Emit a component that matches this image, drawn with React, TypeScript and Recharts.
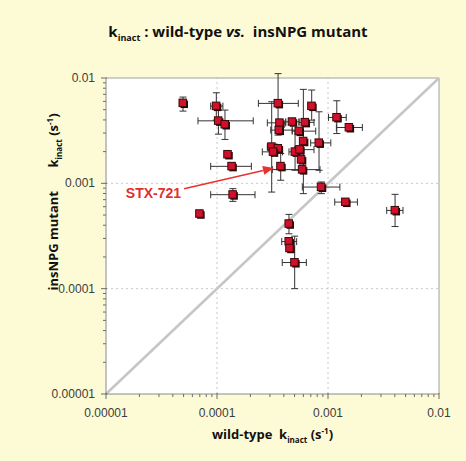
import React from 'react';
import { ScatterChart, Scatter, XAxis, YAxis, ErrorBar, ReferenceLine, CartesianGrid } from 'recharts';

// wild-type kinact (s^-1)
const wildType = [
  4.94e-5, 9.86e-5, 1.03e-4, 1.18e-4, 1.25e-4, 1.36e-4, 1.39e-4, 6.98e-5,
  3.55e-4, 7.13e-4, 1.2e-3, 1.55e-3, 3.67e-4, 4.76e-4, 6.21e-4, 3.62e-4,
  5.48e-4, 6.0e-4, 8.3e-4, 3.11e-4, 3.55e-4, 3.21e-4, 5.05e-4, 5.56e-4,
  5.75e-4, 3.75e-4, 5.87e-4, 8.7e-4, 1.44e-3, 4.02e-3, 4.45e-4, 4.45e-4,
  4.52e-4, 5.01e-4,
];
// insNPG mutant kinact (s^-1)
const mutant = [
  5.78e-3, 5.41e-3, 3.92e-3, 3.62e-3, 1.88e-3, 1.45e-3, 7.8e-4, 5.14e-4,
  5.74e-3, 5.41e-3, 4.22e-3, 3.39e-3, 3.75e-3, 3.84e-3, 3.79e-3, 3.2e-3,
  3.13e-3, 2.51e-3, 2.42e-3, 2.22e-3, 2.14e-3, 1.99e-3, 1.99e-3, 2.09e-3,
  1.68e-3, 1.45e-3, 1.35e-3, 9.22e-4, 6.64e-4, 5.53e-4, 4.13e-4, 2.8e-4,
  2.42e-4, 1.77e-4,
];
// error bar ends (null = no visible bar)
const wtLow = [
  null, 8.77e-5, 6.74e-5, null, null, 8.77e-5, 8.77e-5, null,
  2.36e-4, 6.65e-4, 1.01e-3, 1.19e-3, 2.84e-4, 4.16e-4, 5.48e-4, 3.05e-4,
  4.76e-4, null, 6.98e-4, 2.84e-4, null, 2.56e-4, 4.45e-4, 5.0e-4,
  null, null, 3.15e-4, 5.87e-4, 1.15e-3, 3.38e-3, null, 3.83e-4,
  null, 3.87e-4,
];
const wtHigh = [
  null, 1.13e-4, 2.12e-4, null, null, 2.04e-4, 2.2e-4, null,
  5.4e-4, 7.63e-4, 1.46e-3, 2.04e-3, 4.16e-4, 5.48e-4, 7.48e-4, 4.76e-4,
  7.75e-4, null, 1.06e-3, 3.46e-4, null, 3.9e-4, 5.7e-4, 7.48e-4,
  null, null, 8.47e-4, 1.28e-3, 1.84e-3, 4.74e-3, null, 5.22e-4,
  null, 6.38e-4,
];
const mutLow = [
  4.85e-3, 3.98e-3, 2.93e-3, 2.61e-3, null, 1.35e-3, 6.74e-4, null,
  2.87e-3, 3.98e-3, 2.97e-3, null, null, null, null, null,
  null, 7.98e-4, 1.33e-3, 8.26e-4, null, null, 1.33e-3, null,
  null, 1.07e-3, null, 7.98e-4, 6.2e-4, 3.89e-4, 3.32e-4, null,
  null, 1.0e-4,
];
const mutHigh = [
  6.59e-3, 7.24e-3, 4.96e-3, 4.96e-3, null, 1.56e-3, 8.9e-4, null,
  1.1e-2, 7.69e-3, 6.08e-3, null, null, null, null, null,
  null, 7.8e-3, 4.78e-3, 5.95e-3, null, null, 3.2e-3, null,
  null, 1.92e-3, null, 1.03e-3, 7.1e-4, 7.86e-4, 5.07e-4, null,
  null, 3.15e-4,
];

const majorTicks = [1e-5, 1e-4, 1e-3, 1e-2];
const majorLabels = ['0.00001', '0.0001', '0.001', '0.01'];
const minorFactors = [2, 3, 4, 5, 6, 7, 8, 9];

const annotationLabel = 'STX-721';
const arrowFrom = [5.05e-5, 8.9e-4];
const arrowTo = [3.26e-4, 1.4e-3];

const allTicks = [
  ...majorTicks,
  ...majorTicks.slice(0, 3).flatMap((d) => minorFactors.map((f) => f * d)),
].sort((a, b) => a - b);

const data = wildType.map((x, i) => {
  const y = mutant[i];
  const xl = wtLow[i];
  const xh = wtHigh[i];
  const yl = mutLow[i];
  const yh = mutHigh[i];
  return {
    x,
    y,
    xErr: [xl == null ? 0 : x - xl, xh == null ? 0 : xh - x],
    yErr: [yl == null ? 0 : y - yl, yh == null ? 0 : yh - y],
  };
});

const majorIndex = (v: number) => majorTicks.findIndex((m) => Math.abs(m - v) / m < 1e-6);

const tickFont = { fontFamily: 'Liberation Sans, Arial, sans-serif', fontSize: 12, fill: '#3c3c3c' };

const YTick = (props: any) => {
  const { x, y, payload } = props;
  const idx = majorIndex(payload.value);
  const major = idx >= 0;
  return (
    <g>
      <line x1={x + (major ? 1 : 0)} x2={x - (major ? 5 : 3)} y1={y} y2={y} stroke="#6a6a6a" strokeWidth={1} />
      {major && (
        <text x={x - 11} y={y} dy={4} textAnchor="end" {...tickFont}>
          {majorLabels[idx]}
        </text>
      )}
    </g>
  );
};

const XTick = (props: any) => {
  const { x, y, payload } = props;
  const idx = majorIndex(payload.value);
  const major = idx >= 0;
  return (
    <g>
      <line x1={x} x2={x} y1={y - (major ? 1 : 0)} y2={y + (major ? 5 : 3)} stroke="#6a6a6a" strokeWidth={1} />
      {major && (
        <text x={x} y={y + 23} textAnchor="middle" {...tickFont}>
          {majorLabels[idx]}
        </text>
      )}
    </g>
  );
};

const Marker = (p: any) => {
  const { cx, cy } = p;
  if (cx == null || cy == null) return null;
  return (
    <g>
      <rect x={cx - 2.5} y={cy - 2.5} width={7.5} height={7.5} fill="#2a0808" />
      <rect x={cx - 4} y={cy - 4} width={7.5} height={7.5} fill="#d2102c" stroke="#3a0a0a" strokeWidth={1} />
    </g>
  );
};

const ArrowShape = (p: any) => {
  const { x1, y1, x2, y2 } = p;
  if ([x1, y1, x2, y2].some((v) => v == null || isNaN(v))) return null;
  const ang = Math.atan2(y2 - y1, x2 - x1);
  const len = 11;
  const hw = 4.5;
  const bx = x2 - len * Math.cos(ang);
  const by = y2 - len * Math.sin(ang);
  const px = -Math.sin(ang) * hw;
  const py = Math.cos(ang) * hw;
  return (
    <g>
      <line x1={x1} y1={y1} x2={bx} y2={by} stroke="#e8322f" strokeWidth={1.5} />
      <polygon points={`${x2},${y2} ${bx + px},${by + py} ${bx - px},${by - py}`} fill="#e8322f" />
      <text
        x={x1 - 3}
        y={y1 + 9}
        textAnchor="end"
        fontFamily="Liberation Sans, Arial, sans-serif"
        fontWeight="bold"
        fontSize={14}
        fill="#e0302c"
      >
        {annotationLabel}
      </text>
    </g>
  );
};

const titleFont = "'Open Sans', 'Liberation Sans', Arial, sans-serif";

export default function App() {
  return (
    <div
      style={{
        position: 'fixed',
        left: 0,
        top: 0,
        width: 466,
        height: 461,
        background: '#fdfbd5',
        overflow: 'hidden',
      }}
    >
      <ScatterChart width={466} height={461} margin={{ top: 78, right: 27, bottom: 0, left: 0 }}>
        <CartesianGrid horizontal={false} vertical={false} fill="#ffffff" />
        <XAxis
          type="number"
          dataKey="x"
          scale="log"
          domain={[1e-5, 1e-2]}
          ticks={allTicks}
          interval={0}
          allowDataOverflow
          height={67}
          tickSize={0}
          tickMargin={0}
          tickLine={false}
          axisLine={{ stroke: '#8a8a8a' }}
          tick={<XTick />}
        />
        <YAxis
          type="number"
          dataKey="y"
          scale="log"
          domain={[1e-5, 1e-2]}
          ticks={allTicks}
          interval={0}
          allowDataOverflow
          width={106}
          tickSize={0}
          tickMargin={0}
          tickLine={false}
          axisLine={{ stroke: '#8a8a8a' }}
          tick={<YTick />}
        />
        <ReferenceLine x={1e-4} stroke="#c8c8c8" strokeDasharray="2 3" />
        <ReferenceLine x={1e-3} stroke="#c8c8c8" strokeDasharray="2 3" />
        <ReferenceLine y={1e-4} stroke="#c8c8c8" strokeDasharray="2 3" />
        <ReferenceLine y={1e-3} stroke="#c8c8c8" strokeDasharray="2 3" />
        <ReferenceLine x={1e-2} stroke="#a0a0a0" />
        <ReferenceLine y={1e-2} stroke="#a0a0a0" />
        <ReferenceLine
          segment={[
            { x: majorTicks[0], y: majorTicks[0] },
            { x: majorTicks[3], y: majorTicks[3] },
          ]}
          stroke="#c6c6c6"
          strokeWidth={2.5}
        />
        <Scatter data={data} isAnimationActive={false} shape={(p: any) => <Marker {...p} />}>
          <ErrorBar dataKey="xErr" direction="x" width={3.5} stroke="#333333" strokeWidth={1} />
          <ErrorBar dataKey="yErr" direction="y" width={3.5} stroke="#333333" strokeWidth={1} />
        </Scatter>
        <ReferenceLine
          segment={[
            { x: arrowFrom[0], y: arrowFrom[1] },
            { x: arrowTo[0], y: arrowTo[1] },
          ]}
          shape={(p: any) => <ArrowShape {...p} />}
        />
      </ScatterChart>

      <div
        style={{
          position: 'absolute',
          left: 0,
          width: 476,
          top: 21,
          textAlign: 'center',
          fontFamily: titleFont,
          fontWeight: 700,
          fontSize: 15,
          color: '#111',
          whiteSpace: 'pre',
        }}
      >
        k<sub style={{ fontSize: 9 }}>inact</sub> : wild-type <i>vs.</i>  insNPG mutant
      </div>

      <div
        style={{
          position: 'absolute',
          left: 106,
          width: 333,
          top: 425,
          textAlign: 'center',
          fontFamily: titleFont,
          fontWeight: 700,
          fontSize: 13,
          color: '#111',
          whiteSpace: 'pre',
        }}
      >
        wild-type  k<sub style={{ fontSize: 8 }}>inact</sub> (s<sup style={{ fontSize: 8 }}>-1</sup>)
      </div>

      <div
        style={{
          position: 'absolute',
          left: 50 - 150,
          top: 202 - 10,
          width: 300,
          height: 20,
          lineHeight: '20px',
          textAlign: 'center',
          transform: 'rotate(-90deg)',
          fontFamily: titleFont,
          fontWeight: 700,
          fontSize: 13,
          color: '#111',
          whiteSpace: 'pre',
        }}
      >
        insNPG mutant       k<sub style={{ fontSize: 8 }}>inact</sub> (s<sup style={{ fontSize: 8 }}>-1</sup>)
      </div>
    </div>
  );
}
